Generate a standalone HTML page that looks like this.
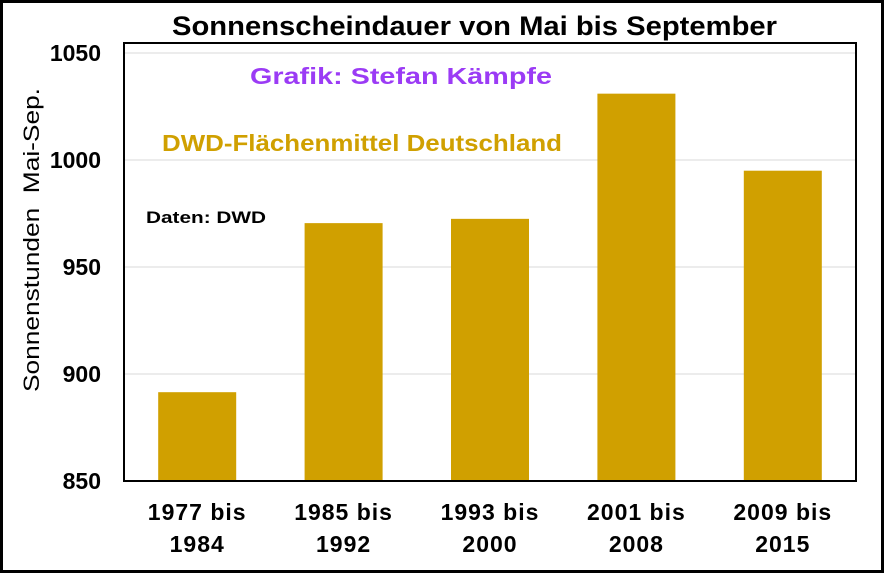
<!DOCTYPE html>
<html><head><meta charset="utf-8"><style>
html,body{margin:0;padding:0;background:#fff}
svg{display:block;font-family:"Liberation Sans",Arial,sans-serif}
</style></head><body>
<svg id="chart" width="885" height="574" viewBox="0 0 885 574">
<rect x="1.5" y="1.5" width="881" height="570" fill="#fff" stroke="#000" stroke-width="3"/>
<text x="172" y="35" font-size="27" font-weight="bold" textLength="605" lengthAdjust="spacingAndGlyphs">Sonnenscheindauer von Mai bis September</text>
<g id="grid"></g>
<g id="bars"></g>
<rect x="124" y="43" width="732" height="438" fill="none" stroke="#000" stroke-width="2"/>
<g id="yticks"></g>
<g id="xticks"></g>
<text transform="translate(39,392) rotate(-90)" font-size="22" textLength="304" lengthAdjust="spacingAndGlyphs">Sonnenstunden&#160;&#160;Mai-Sep.</text>
<text x="250" y="84" font-size="23" font-weight="bold" fill="#9B3BF5" textLength="302" lengthAdjust="spacingAndGlyphs">Grafik: Stefan Kämpfe</text>
<text x="162" y="151" font-size="23" font-weight="bold" fill="#D0A000" textLength="400" lengthAdjust="spacingAndGlyphs">DWD-Flächenmittel Deutschland</text>
<text x="146" y="223" font-size="17" font-weight="bold" textLength="120" lengthAdjust="spacingAndGlyphs">Daten: DWD</text>
</svg>
<script>
const categories = [["1977 bis","1984"],["1985 bis","1992"],["1993 bis","2000"],["2001 bis","2008"],["2009 bis","2015"]];
const values = [891.5, 970.5, 972.5, 1031, 995];
const yTicks = [850, 900, 950, 1000, 1050];
const ns = "http://www.w3.org/2000/svg";
const L=124, R=856, B=481;
const y = v => B - (v-850)*107/50;
const band = (R-L)/categories.length;
const xc = i => L + band*(i+0.5);
const bw = 78;
const grid=document.getElementById('grid'), bars=document.getElementById('bars'), yt=document.getElementById('yticks'), xt=document.getElementById('xticks');
yTicks.forEach(t=>{
  if(t>850){
    const l=document.createElementNS(ns,'line');
    l.setAttribute('x1',L);l.setAttribute('x2',R);l.setAttribute('y1',y(t));l.setAttribute('y2',y(t));
    l.setAttribute('stroke','#d9d9d9');l.setAttribute('stroke-width','1');
    
    
    grid.appendChild(l);
  }
  const tx=document.createElementNS(ns,'text');
  tx.setAttribute('x',101);tx.setAttribute('y',y(t)+8);tx.setAttribute('text-anchor','end');
  tx.setAttribute('font-size','23');tx.setAttribute('font-weight','bold');
  tx.textContent=t;
  
  
  yt.appendChild(tx);
});
values.forEach((v,i)=>{
  const r=document.createElementNS(ns,'rect');
  r.setAttribute('x',xc(i)-bw/2);r.setAttribute('width',bw);
  r.setAttribute('y',y(v));r.setAttribute('height',B-y(v));
  r.setAttribute('fill','#D0A000');
  
  
  bars.appendChild(r);
  categories[i].forEach((s,j)=>{
    const tx=document.createElementNS(ns,'text');
    tx.setAttribute('x',xc(i));tx.setAttribute('y',520+j*32);tx.setAttribute('text-anchor','middle');
    tx.setAttribute('font-size','23');tx.setAttribute('font-weight','bold');
    tx.setAttribute('letter-spacing','1');
    tx.textContent=s;
    
    
    xt.appendChild(tx);
  });
});
</script>
</body></html>
